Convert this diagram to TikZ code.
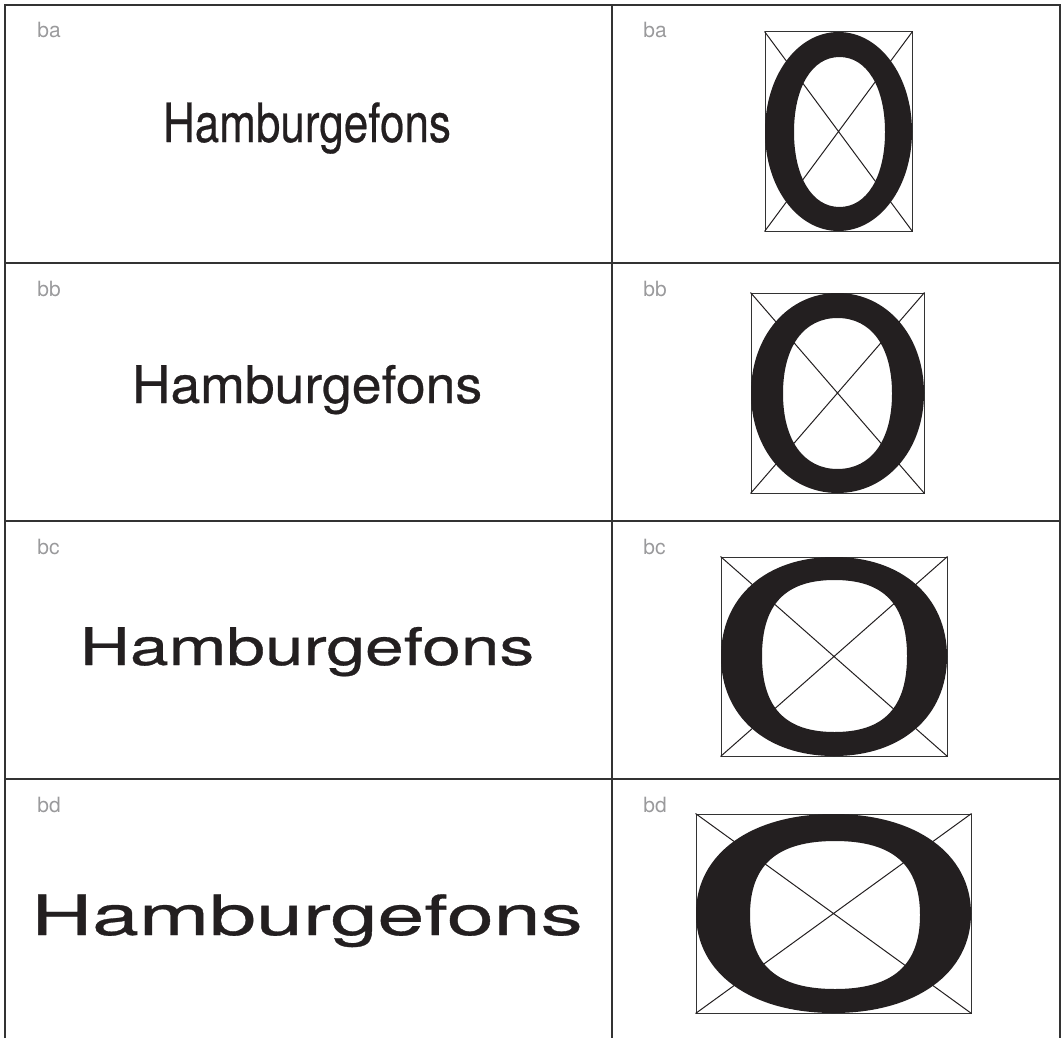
\documentclass[tikz,border=0pt]{standalone}
\usepackage{fontspec}
\setmainfont{TeX Gyre Heros}
\newfontfamily\samplefont[FakeBold=0.5]{TeX Gyre Heros}
\definecolor{labelgray}{HTML}{9A9A9C}
\definecolor{inkblack}{HTML}{231F20}
\definecolor{rulegray}{HTML}{333333}
\tikzset{
  rule/.style={line width=0.9pt, draw=rulegray},
  tag/.style={anchor=base west, text=labelgray, inner sep=0pt, font=\fontsize{10.5}{12}\selectfont},
  sample/.style={anchor=base, text=inkblack, inner sep=0pt, font=\samplefont\fontsize{26.5}{30}\selectfont},
  glyphbox/.style={draw=rulegray, line width=0.5pt, inner sep=0pt},
  diag/.style={line width=0.5pt, draw=inkblack}
}
% squircle: centre x, centre y, half width, half height, handle factor
\newcommand{\squircle}[5]{%
  ({#1+#3},{#2}) .. controls ({#1+#3},{#2+#5*#4}) and ({#1+#5*#3},{#2+#4}) .. ({#1},{#2+#4})
  .. controls ({#1-#5*#3},{#2+#4}) and ({#1-#3},{#2+#5*#4}) .. ({#1-#3},{#2})
  .. controls ({#1-#3},{#2-#5*#4}) and ({#1-#5*#3},{#2-#4}) .. ({#1},{#2-#4})
  .. controls ({#1+#5*#3},{#2-#4}) and ({#1+#3},{#2-#5*#4}) .. ({#1+#3},{#2}) -- cycle}
\begin{document}
\begin{tikzpicture}[x=0.5pt, y=-0.5pt]  % one unit = one pixel of the plate
  \useasboundingbox (0,0) rectangle (1064,1038);

  % frame and grid
  \draw[rule] (5,1038) -- (5,5) -- (1060,5) -- (1060,1038);
  \draw[rule] (612,5) -- (612,1038);
  \foreach \y in {263,521,779} {
    \draw[rule] (5,\y) -- (1060,\y);
  }

  % row tags
  \foreach \n/\top in {a/5,b/263,c/521,d/779} {
    \node[tag] (tagl\n) at (37,\top+33) {b\n};
    \node[tag] (tagr\n) at (643,\top+33) {b\n};
  }

  % word samples, condensed to extended
  \foreach \n/\base/\xs/\ys in {a/142/0.83/1.02,b/403/1.01/0.98,c/665/1.31/0.98,d/935/1.59/1.05} {
    \node[sample, xscale=\xs, yscale=\ys] (word\n) at (307,\base) {Hamburgefons};
  }

  % the O in its box
  \foreach \n/\cx/\cy/\w/\h/\ix/\iy/\ia/\ib/\ko/\ki in {
      a/838.5/131.5/147/199/839.5/132/45.5/75/0.56/0.6,
      b/837.5/393/173/200/837.5/393.5/54.5/75.5/0.57/0.62,
      c/834/656.5/226/199/834.5/656/72.5/76/0.6/0.68,
      d/833.5/913.5/275/199/835/915/85/74/0.6/0.68} {
    \node[glyphbox, minimum width=\w*0.5pt, minimum height=\h*0.5pt] (box\n) at (\cx,\cy) {};
    \draw[diag] (box\n.north west) -- (box\n.south east)
                (box\n.north east) -- (box\n.south west);
    \fill[inkblack, even odd rule] \squircle{\cx}{\cy}{\w/2}{\h/2}{\ko}
                                   \squircle{\ix}{\iy}{\ia}{\ib}{\ki};
  }
\end{tikzpicture}
\end{document}
